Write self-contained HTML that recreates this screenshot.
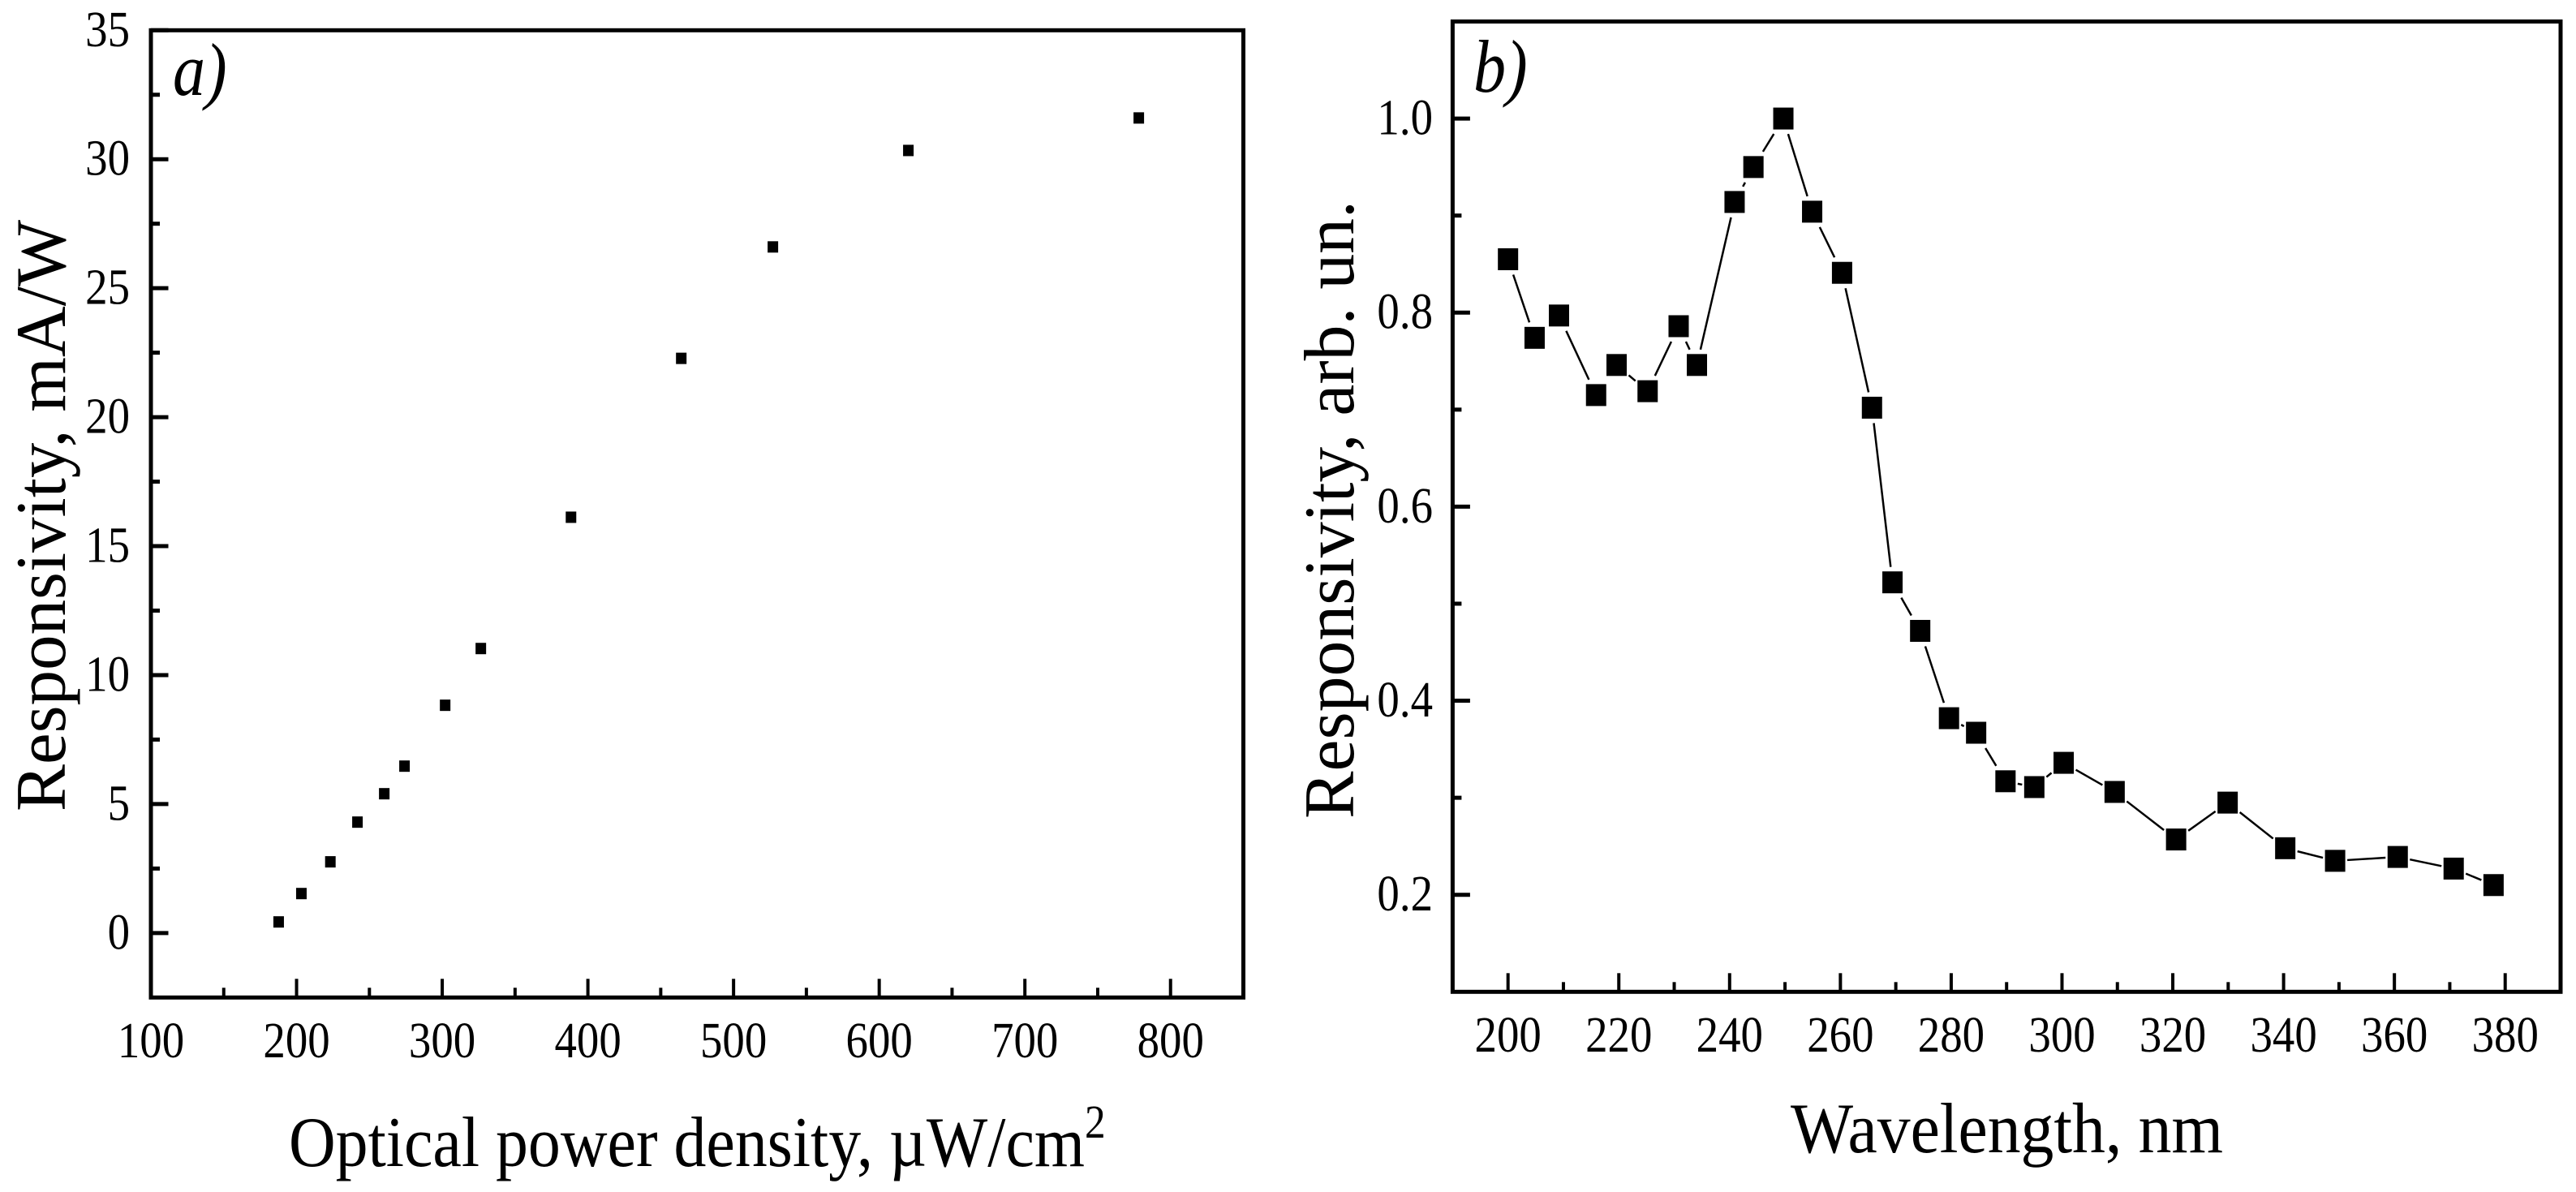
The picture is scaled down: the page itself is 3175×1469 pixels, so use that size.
<!DOCTYPE html>
<html>
<head>
<meta charset="utf-8">
<title>Responsivity charts</title>
<style>
  html, body { margin: 0; padding: 0; background: #fff; }
  svg { display: block; }
  text { font-family: "Liberation Serif", "DejaVu Serif", serif; fill: #000; }
</style>
</head>
<body>
<svg id="figure" xmlns="http://www.w3.org/2000/svg" width="3175" height="1469" viewBox="0 0 3175 1469">
  <rect x="0" y="0" width="3175" height="1469" fill="#fff"/>
  <g id="panel-a">
    <rect x="186" y="37.3" width="1346.5" height="1192" fill="none" stroke="#000" stroke-width="5"/>
    <text transform="translate(213,117) scale(0.87,1)" font-size="92" font-style="italic">a)</text>
    <text transform="translate(80,1000) rotate(-90)" font-size="88" textLength="729" lengthAdjust="spacingAndGlyphs">Responsivity, mA/W</text>
    <text x="356" y="1437" font-size="88" textLength="981" lengthAdjust="spacingAndGlyphs">Optical power density, µW/cm</text>
    <text transform="translate(1337,1402) scale(0.885,1)" font-size="58">2</text>
  </g>
  <g id="panel-b">
    <rect x="1790.4" y="26.5" width="1365.6" height="1195.8" fill="none" stroke="#000" stroke-width="5"/>
    <text transform="translate(1816,113) scale(0.87,1)" font-size="92" font-style="italic">b)</text>
    <text transform="translate(1668,1009) rotate(-90)" font-size="88" textLength="762" lengthAdjust="spacingAndGlyphs">Responsivity, arb. un.</text>
    <text x="2207" y="1420" font-size="88" textLength="533" lengthAdjust="spacingAndGlyphs">Wavelength, nm</text>
  </g>
</svg>
<script>
// Panel a data
const powerDensity = [187.7, 203.3, 223.2, 241.8, 260.2, 274.1, 302, 326.5, 388.4, 464.1, 527, 620, 778.2];
const responsivityMA = [0.43, 1.53, 2.76, 4.3, 5.4, 6.47, 8.83, 11.03, 16.12, 22.28, 26.6, 30.34, 31.6];
const aXMajorTicks = [100, 200, 300, 400, 500, 600, 700, 800];
const aXMinorTicks = [150, 250, 350, 450, 550, 650, 750];
const aYMajorTicks = [0, 5, 10, 15, 20, 25, 30, 35];
const aYMinorTicks = [2.5, 7.5, 12.5, 17.5, 22.5, 27.5, 32.5];

// Panel b data
const wavelength = [200, 204.8, 209.2, 215.9, 219.6, 225.2, 230.8, 234.1, 240.9, 244.3, 249.7, 254.9, 260.3, 265.7, 269.4, 274.4, 279.6, 284.5, 289.8, 295, 300.3, 309.5, 320.6, 329.9, 340.3, 349.3, 360.6, 370.7, 377.9];
const responsivityArb = [0.855, 0.774, 0.797, 0.715, 0.746, 0.719, 0.786, 0.746, 0.914, 0.95, 1.0, 0.904, 0.841, 0.702, 0.522, 0.472, 0.382, 0.367, 0.317, 0.311, 0.336, 0.306, 0.257, 0.295, 0.248, 0.235, 0.239, 0.227, 0.21];
const bXMajorTicks = [200, 220, 240, 260, 280, 300, 320, 340, 360, 380];
const bXMinorTicks = [210, 230, 250, 270, 290, 310, 330, 350, 370];
const bYMajorTicks = [0.2, 0.4, 0.6, 0.8, 1.0];
const bYMinorTicks = [0.3, 0.5, 0.7, 0.9];

const SVG_NS = 'http://www.w3.org/2000/svg';

function scale(d0, d1, r0, r1) {
  return function (v) { return r0 + (v - d0) * (r1 - r0) / (d1 - d0); };
}

const xA = scale(100, 850, 186, 1532.5);
const yA = scale(-2.5, 35, 1229.3, 37.3);
const xB = scale(190, 390, 1790.4, 3156);
const yB = scale(0.1, 1.1, 1222.3, 26.5);

function addLine(parent, name, x1, y1, x2, y2, width) {
  const el = document.createElementNS(SVG_NS, 'line');
  
  
  el.setAttribute('x1', x1);
  el.setAttribute('y1', y1);
  el.setAttribute('x2', x2);
  el.setAttribute('y2', y2);
  el.setAttribute('stroke', '#000');
  el.setAttribute('stroke-width', width);
  parent.appendChild(el);
}

function addLabel(parent, name, x, y, anchor, content) {
  const el = document.createElementNS(SVG_NS, 'text');
  
  
  el.setAttribute('transform', 'translate(' + x + ',' + y + ') scale(0.885,1)');
  el.setAttribute('text-anchor', anchor);
  el.setAttribute('font-size', '62');
  el.textContent = content;
  parent.appendChild(el);
}

function addMarker(parent, name, cx, cy, w, h) {
  const el = document.createElementNS(SVG_NS, 'rect');
  
  
  el.setAttribute('x', cx - w / 2);
  el.setAttribute('y', cy - h / 2);
  el.setAttribute('width', w);
  el.setAttribute('height', h);
  el.setAttribute('fill', '#000');
  parent.appendChild(el);
}

function drawAxes(parent, prefix, cfg) {
  cfg.xMajor.forEach(function (v) {
    addLine(parent, prefix + '-x-major-tick', cfg.x(v), cfg.bottom, cfg.x(v), cfg.bottom - 23, 4);
    addLabel(parent, prefix + '-x-tick-label', cfg.x(v), cfg.xLabelY, 'middle', String(v));
  });
  cfg.xMinor.forEach(function (v) {
    addLine(parent, prefix + '-x-minor-tick', cfg.x(v), cfg.bottom, cfg.x(v), cfg.bottom - 12, 4);
  });
  cfg.yMajor.forEach(function (v) {
    addLine(parent, prefix + '-y-major-tick', cfg.left, cfg.y(v), cfg.left + 21.5, cfg.y(v), 5);
    addLabel(parent, prefix + '-y-tick-label', cfg.yLabelX, cfg.y(v) + 19.5, 'end', cfg.fmt(v));
  });
  cfg.yMinor.forEach(function (v) {
    addLine(parent, prefix + '-y-minor-tick', cfg.left, cfg.y(v), cfg.left + 11, cfg.y(v), 5);
  });
}

const panelA = document.getElementById('panel-a');
const panelB = document.getElementById('panel-b');

drawAxes(panelA, 'panel-a', {
  x: xA, y: yA, left: 186, bottom: 1229.3, xLabelY: 1303, yLabelX: 160,
  xMajor: aXMajorTicks, xMinor: aXMinorTicks, yMajor: aYMajorTicks, yMinor: aYMinorTicks,
  fmt: function (v) { return String(v); }
});

drawAxes(panelB, 'panel-b', {
  x: xB, y: yB, left: 1790.4, bottom: 1222.3, xLabelY: 1296, yLabelX: 1766,
  xMajor: bXMajorTicks, xMinor: bXMinorTicks, yMajor: bYMajorTicks, yMinor: bYMinorTicks,
  fmt: function (v) { return v.toFixed(1); }
});

powerDensity.forEach(function (v, i) {
  addMarker(panelA, 'panel-a-data-point', xA(v), yA(responsivityMA[i]), 13, 14);
});

// Connecting line with a small gap left around each symbol
const gapHalfW = 15;
const gapHalfH = 19;
for (let i = 0; i < wavelength.length - 1; i++) {
  const x1 = xB(wavelength[i]);
  const y1 = yB(responsivityArb[i]);
  const x2 = xB(wavelength[i + 1]);
  const y2 = yB(responsivityArb[i + 1]);
  const dx = x2 - x1;
  const dy = y2 - y1;
  const t = Math.min(gapHalfW / Math.abs(dx), gapHalfH / Math.abs(dy));
  if (t < 0.5) {
    addLine(panelB, 'panel-b-line-segment', x1 + dx * t, y1 + dy * t, x2 - dx * t, y2 - dy * t, 2.5);
  }
}

wavelength.forEach(function (v, i) {
  addMarker(panelB, 'panel-b-data-point', xB(v), yB(responsivityArb[i]), 25, 27);
});
</script>
</body>
</html>
